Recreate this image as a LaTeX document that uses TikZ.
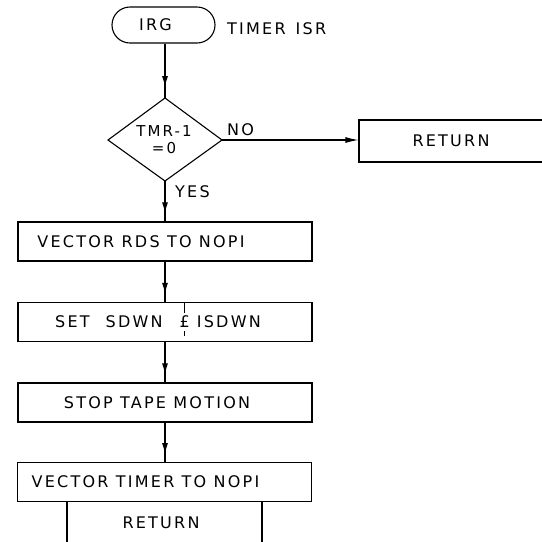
\documentclass[tikz,border=0pt]{standalone}
\usepackage{fontspec}
\setmainfont{DejaVu Sans}[LetterSpace=14]
\usetikzlibrary{arrows.meta,decorations.markings}
\newcommand\strkpound{\ooalign{£\cr\hidewidth\smash{\rule[15pt]{0.9pt}{10pt}}\hidewidth\cr\hidewidth\smash{\rule[-8pt]{0.9pt}{5pt}}\hidewidth\cr}}
\tikzset{
  lin/.style={line width=1.1pt},
  txt/.style={font=\fontsize{16}{16}\selectfont},
  boxnode/.style={draw,lin,rectangle,minimum width=294pt,minimum height=39pt,inner sep=0pt,txt},
  lbl/.style={inner sep=0pt,txt},
  flow/.style={lin,postaction={decorate},decoration={markings,mark=at position 0.8 with {\arrow{Latex[length=11pt,width=6pt]}}}},
}
\begin{document}
\begin{tikzpicture}[x=1pt,y=-1pt]
\useasboundingbox (0,0) rectangle (542,542);
\clip (0,0) rectangle (542,542);
\fill[white] (0,0) rectangle (542,542);
% terminal
\node[draw,lin,rounded corners=18pt,minimum width=103pt,minimum height=36pt,inner sep=0pt,txt] (irq) at (163.5,25) {IRG\hspace*{16pt}};
\node[lbl,anchor=west] (tlabel) at (227,29) {TIMER\hspace{10pt}ISR};
% decision
\coordinate (dT) at (165,98);
\coordinate (dL) at (108,140);
\coordinate (dR) at (222,140);
\coordinate (dB) at (165,181);
\draw[lin] (dT) -- (dR) -- (dB) -- (dL) -- cycle;
\node[lbl,align=center,font=\fontsize{15}{17}\selectfont] (dtext) at (164,140) {TMR-1\\=0};
\node[lbl,anchor=west] (nolbl) at (227,130) {NO};
\node[lbl,anchor=west] (yeslbl) at (175,192) {YES};
% right return
\node[draw,lin,rectangle,minimum width=202pt,minimum height=42pt,inner sep=0pt] (ret1) at (460,141) {};
\node[lbl] (ret1t) at (451,141) {RETURN};
% boxes
\node[boxnode] (b1) at (165,241.5) {VECTOR RDS TO NOPI\hspace*{48pt}};
\node[boxnode] (b2) at (165,322) {SET\hspace{16pt}SDWN\hspace{17pt}\strkpound\hspace{7pt}ISDWN\hspace*{14pt}};
\node[boxnode] (b3) at (165,402.5) {STOP TAPE MOTION\hspace*{16pt}};
\node[boxnode] (b4) at (164.5,482) {VECTOR TIMER TO NOPI\hspace*{38pt}};
% bottom return
\coordinate (rl) at (67,542);
\coordinate (rr) at (262,542);
\draw[lin] (b4.south -| rl) -- (rl);
\draw[lin] (b4.south -| rr) -- (rr);
\node[lbl] (ret2) at (161,523) {RETURN};
% connectors
\draw[flow] (irq.south -| dT) -- (dT);
\draw[lin,-{Latex[length=13pt,width=6pt]}] (dR) -- (dR -| ret1.west);
\draw[flow] (dB) -- (b1.north -| dB);
\draw[flow] (b1.south -| dB) -- (b2.north -| dB);
\draw[flow] (b2.south -| dB) -- (b3.north -| dB);
\draw[flow] (b3.south -| dB) -- (b4.north -| dB);
\end{tikzpicture}
\end{document}
